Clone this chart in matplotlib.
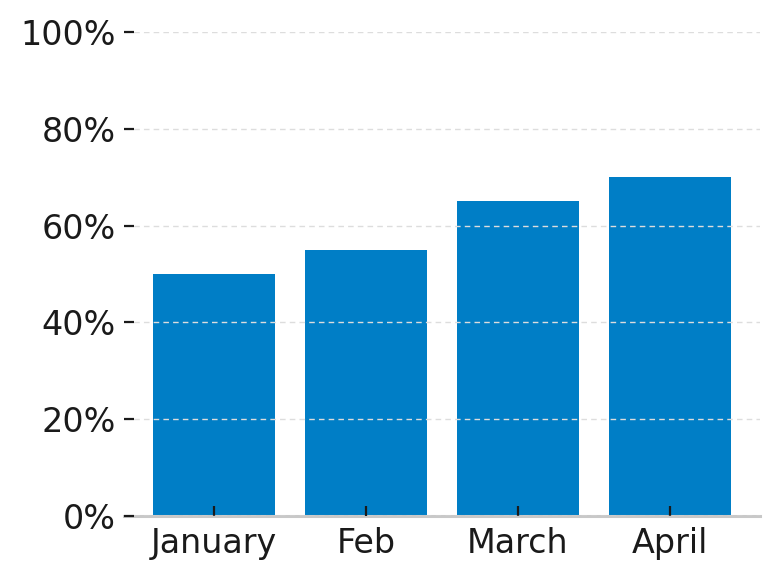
import matplotlib
matplotlib.use("Agg")
import matplotlib.pyplot as plt
from matplotlib.ticker import PercentFormatter

# Chart data
months = ["January", "Feb", "March", "April"]
values = [50, 55, 65, 70]
y_ticks = [0, 20, 40, 60, 80, 100]

fig = plt.figure(figsize=(3.9, 2.895), dpi=200)
ax = fig.add_axes([0.159, 0.1088, 0.815, 0.8359])

ax.bar(months, values, width=0.8, color="#007ec6")

ax.set_ylim(0, 100)
ax.set_yticks(y_ticks)
ax.yaxis.set_major_formatter(PercentFormatter(100, decimals=0))

# dashed grid on top of the bars
ax.set_axisbelow(False)
ax.grid(axis="y", linestyle=(0, (4, 3)), color="#dddddd", linewidth=0.5)

for side in ["top", "right", "left"]:
    ax.spines[side].set_visible(False)
ax.spines["bottom"].set_color("#c8c8c8")
ax.spines["bottom"].set_linewidth(1.1)

ax.tick_params(axis="both", direction="in", labelsize=12, colors="#1a1a1a",
               length=3.5, width=0.8)
ax.tick_params(axis="y", pad=3)
ax.tick_params(axis="x", pad=4)

fig.savefig("out.png", dpi=200)
